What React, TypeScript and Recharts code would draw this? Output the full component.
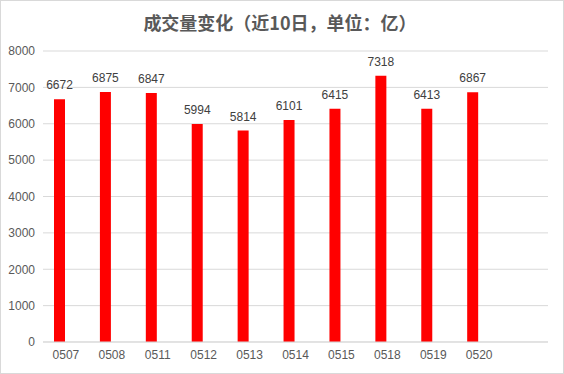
import { BarChart, Bar, XAxis, YAxis, CartesianGrid, LabelList } from "recharts";

const dates = ["0507", "0508", "0511", "0512", "0513", "0514", "0515", "0518", "0519", "0520"];
const volumes = [6672, 6875, 6847, 5994, 5814, 6101, 6415, 7318, 6413, 6867];
const yTicks = [0, 1000, 2000, 3000, 4000, 5000, 6000, 7000, 8000];

// the original leaves an empty slot at the end and a hidden second series
const data = [
  ...dates.map((d, i) => ({ name: d, volume: volumes[i], blank: null })),
  { name: "", volume: null, blank: null },
];

export default function App() {
  return (
    <div
      style={{
        position: "absolute",
        left: 0,
        top: 0,
        width: 564,
        height: 374,
        boxSizing: "border-box",
        border: "1px solid #d9d9d9",
        background: "#fff",
        fontFamily: "'Liberation Sans', Arial, sans-serif",
      }}
    >
      <div
        style={{
          position: "absolute",
          top: 8,
          left: -2,
          width: "100%",
          textAlign: "center",
          fontFamily: "'Noto Sans CJK SC', sans-serif",
          fontWeight: "bold",
          fontSize: 18,
          color: "#595959",
        }}
      >
        成交量变化（近10日，单位：亿）
      </div>
      <div style={{ position: "absolute", left: -1, top: -1 }}>
        <BarChart
          width={564}
          height={374}
          data={data}
          margin={{ top: 51, right: 16, bottom: 10, left: 0 }}
          barSize={11}
          barGap={2}
        >
          <CartesianGrid vertical={false} stroke="#d9d9d9" />
          <XAxis
            dataKey="name"
            axisLine={{ stroke: "#d9d9d9" }}
            tickLine={false}
            tickSize={0}
            tickMargin={8}
            height={22}
            interval={0}
            tick={{ fontSize: 12, fill: "#595959" }}
          />
          <YAxis
            domain={[0, 8000]}
            ticks={yTicks}
            axisLine={false}
            tickLine={false}
            tickSize={0}
            tickMargin={8}
            width={43}
            tick={{ fontSize: 12, fill: "#595959" }}
          />
          <Bar dataKey="volume" fill="#ff0000" isAnimationActive={false}>
            <LabelList dataKey="volume" position="top" offset={10} fill="#404040" fontSize={12} />
          </Bar>
          <Bar dataKey="blank" fill="#ffffff" isAnimationActive={false} />
        </BarChart>
      </div>
    </div>
  );
}
